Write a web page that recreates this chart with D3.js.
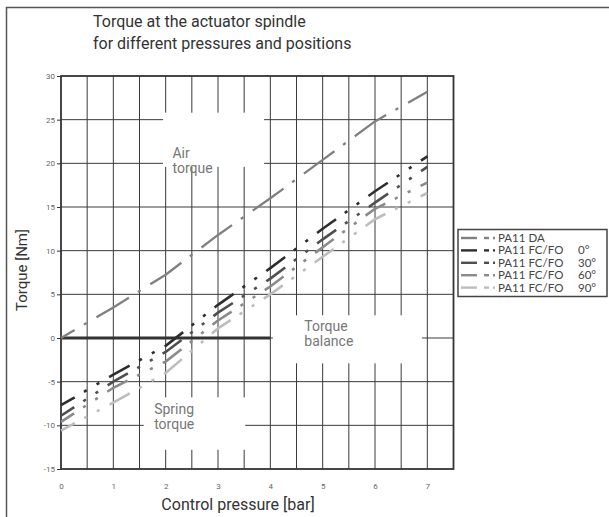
<!DOCTYPE html>
<html><head><meta charset="utf-8">
<script src="https://cdn.jsdelivr.net/npm/d3@7"></script>
<style>
body{margin:0;background:#fff}
svg{display:block}
text{font-family:Roboto,"DejaVu Sans",sans-serif}
.leg{font-family:Lato,"DejaVu Sans",sans-serif}
</style>
</head><body><svg id="c" width="609" height="517"></svg>
<script>
// ---- data ----
const pressures = [0, 1, 2, 3, 4, 5, 6, 7];
const torqueDA   = [0, 3.5, 7.25, 11.8, 16.0, 20.4, 24.8, 28.2];
const torque0    = [-7.7, -4.2, -0.9, 3.8, 8.0, 12.5, 16.8, 20.8];
const torque30   = [-8.9, -5.0, -1.6, 2.9, 6.8, 11.3, 15.5, 19.6];
const torque60   = [-9.6, -5.7, -2.7, 2.0, 5.9, 10.4, 14.8, 17.8];
const torque90   = [-10.6, -7.4, -4.0, 1.1, 5.0, 9.3, 13.6, 16.6];
const balanceX   = [0, 4];
const balanceY   = [0, 0];
const seriesLabels = ["PA11 DA", "PA11 FC/FO", "PA11 FC/FO", "PA11 FC/FO", "PA11 FC/FO"];
const seriesAngles = ["", "0°", "30°", "60°", "90°"];
const xTickValues = [0, 1, 2, 3, 4, 5, 6, 7];
const yTickValues = [-15, -10, -5, 0, 5, 10, 15, 20, 25, 30];
const xGridValues = [0.5,1,1.5,2,2.5,3,3.5,4,4.5,5,5.5,6,6.5,7];
const yGridValues = [-10,-5,0,5,10,15,20,25];

// ---- styles ----
const colors = ["#808080", "#2e2e2e", "#4f4f4f", "#8a8a8a", "#bdbdbd"];
const svg = d3.select("#c");
const x = d3.scaleLinear().domain([0, 7.5]).range([61, 453.5]);
const y = d3.scaleLinear().domain([-15, 30]).range([469, 76]);

// outer frame
svg.append("path").attr("d", "M6.5,517 V7.5 H609").attr("fill", "none").attr("stroke", "#555").attr("stroke-width", 1.5);

// title
const title = svg.append("text").attr("x", 93).attr("y", 27).attr("fill", "#333").attr("font-size", 16);
title.append("tspan").attr("x", 93).text("Torque at the actuator spindle");
title.append("tspan").attr("x", 93).attr("dy", 21.5).text("for different pressures and positions");

// grid
const g = svg.append("g");
g.selectAll(".vg").data(xGridValues).join("line")
  .attr("x1", d => x(d)).attr("x2", d => x(d)).attr("y1", y(30)).attr("y2", y(-15))
  .attr("stroke", "#3a3a3a").attr("stroke-width", 1);
g.selectAll(".hg").data(yGridValues).join("line")
  .attr("x1", x(0)).attr("x2", x(7.5)).attr("y1", d => y(d)).attr("y2", d => y(d))
  .attr("stroke", "#3a3a3a").attr("stroke-width", 1);

// white label boxes (data-unit extents)
const boxes = [
  {x0: 1.95, x1: 3.88, y0: 19.6, y1: 25.8, lines: ["Air", "torque"], tx: 2.13, ty: 20.6},
  {x0: 4.05, x1: 6.9, y0: -2.9, y1: 2.6, lines: ["Torque", "balance"], tx: 4.65, ty: 0.75},
  {x0: 1.58, x1: 3.52, y0: -12.8, y1: -6.8, lines: ["Spring", "torque"], tx: 1.78, ty: -8.75}
];
boxes.forEach(b => {
  svg.append("rect").attr("x", x(b.x0)).attr("y", y(b.y1)).attr("width", x(b.x1) - x(b.x0))
    .attr("height", y(b.y0) - y(b.y1)).attr("fill", "#fff");
  const t = svg.append("text").attr("x", x(b.tx)).attr("y", y(b.ty)).attr("fill", "#777").attr("font-size", 14);
  b.lines.forEach((l, i) => t.append("tspan").attr("x", x(b.tx)).attr("dy", i ? 14.5 : 0).text(l));
});

// axes frame
svg.append("rect").attr("x", x(0)).attr("y", y(30)).attr("width", x(7.5) - x(0)).attr("height", y(-15) - y(30))
  .attr("fill", "none").attr("stroke", "#333").attr("stroke-width", 1.8);

// y axis
const yAxis = d3.axisLeft(y).tickValues(yTickValues).tickSize(4).tickPadding(2).tickFormat(d => String(d));
const ya = svg.append("g").attr("transform", `translate(${x(0)},0)`).call(yAxis);
ya.select(".domain").remove();
ya.selectAll("line").attr("stroke", "#333");
ya.selectAll("text").attr("fill", "#666").attr("font-size", 8);

// x axis
const xAxis = d3.axisBottom(x).tickValues(xTickValues).tickSize(0).tickPadding(14).tickFormat(d => String(d));
const xa = svg.append("g").attr("transform", `translate(0,${y(-15)})`).call(xAxis);
xa.select(".domain").remove();
xa.selectAll("text").attr("fill", "#666").attr("font-size", 8);

// axis titles
svg.append("text").attr("x", 238).attr("y", 510).attr("text-anchor", "middle").attr("fill", "#333").attr("font-size", 16)
  .text("Control pressure [bar]");
svg.append("text").attr("transform", "translate(27,270) rotate(-90)").attr("text-anchor", "middle").attr("fill", "#333")
  .attr("font-size", 15).text("Torque [Nm]");

// torque balance line
const balLine = d3.line().x(d => x(d[0])).y(d => y(d[1]));
svg.append("path").attr("d", balLine(d3.zip(balanceX, balanceY))).attr("stroke", "#333").attr("stroke-width", 3).attr("fill", "none");

// series
const series = [torqueDA, torque0, torque30, torque60, torque90];
const line = d3.line().x(d => x(d[0])).y(d => y(d[1]));
const span = pressures[pressures.length - 1] - pressures[0];
series.forEach((vals, i) => {
  const isDA = i === 0;
  svg.append("path")
    .attr("d", line(d3.zip(pressures, vals)))
    .attr("fill", "none")
    .attr("stroke", colors[i])
    .attr("stroke-width", isDA ? 2.3 : 2.6)
    .attr("pathLength", span)
    .attr("stroke-dasharray", isDA ? "0.6 0.17 0.05 0.18" : "0.37 0.17 0.05 0.18 0.05 0.18")
    .attr("stroke-dashoffset", isDA ? 0.35 : 0.12);
});

// legend
svg.append("rect").attr("x", 458).attr("y", 229.5).attr("width", 149).attr("height", 67)
  .attr("fill", "#fff").attr("stroke", "#444").attr("stroke-width", 1.5);
seriesLabels.forEach((lab, i) => {
  const cy = 238 + i * 12.4;
  const lg = svg.append("g");
  lg.append("line").attr("x1", 461).attr("x2", 477).attr("y1", cy).attr("y2", cy).attr("stroke", colors[i]).attr("stroke-width", 2.4);
  lg.append("line").attr("x1", 484).attr("x2", 489).attr("y1", cy).attr("y2", cy).attr("stroke", colors[i]).attr("stroke-width", 2.4);
  lg.append("line").attr("x1", 493).attr("x2", 495).attr("y1", cy).attr("y2", cy).attr("stroke", colors[i]).attr("stroke-width", 2.4);
  lg.append("text").attr("class", "leg").attr("x", 498).attr("y", cy + 4).attr("fill", "#444").attr("font-size", 11.5).text(lab);
  if (seriesAngles[i]) lg.append("text").attr("class", "leg").attr("x", 578).attr("y", cy + 4).attr("fill", "#444").attr("font-size", 11.5).text(seriesAngles[i]);
});
</script>
</body></html>
